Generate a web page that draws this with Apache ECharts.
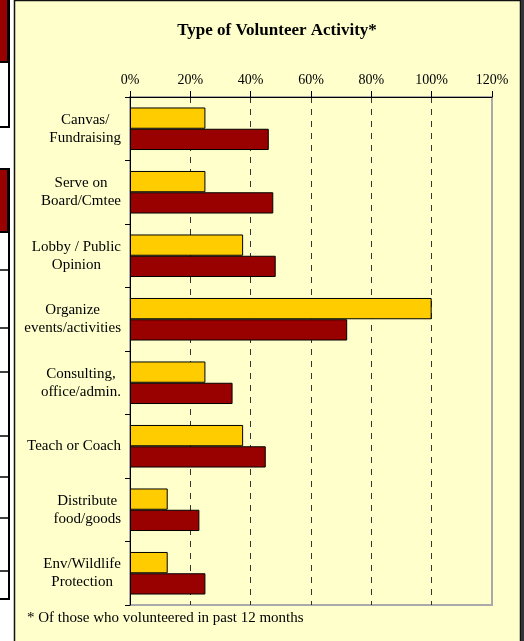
<!DOCTYPE html>
<html>
<head>
<meta charset="utf-8">
<style>
html,body{margin:0;padding:0;background:#ffffff;}
#chart{width:524px;height:641px;}
</style>
<script src="https://cdn.jsdelivr.net/npm/echarts@6/dist/echarts.min.js"></script>
</head>
<body>
<div id="chart"></div>
<script>
var categories = [
  "Canvas/\nFundraising",
  "Serve on\nBoard/Cmtee",
  "Lobby / Public\nOpinion",
  "Organize\nevents/activities",
  "Consulting,\noffice/admin.",
  "Teach or Coach",
  "Distribute\nfood/goods",
  "Env/Wildlife\nProtection"
];
var seriesYellow = [25, 25, 37.5, 100, 25, 37.5, 12.5, 12.5];
var seriesRed = [46, 47.5, 48.3, 72, 34, 45, 23, 25];
var axisMin = 0, axisMax = 120, axisStep = 20;
var titleText = "Type of Volunteer Activity*";
var footnoteText = "* Of those who volunteered in past 12 months";

var FONT = "'Liberation Serif', 'Times New Roman', serif";
var chart = echarts.init(document.getElementById('chart'), null, {renderer: 'canvas'});

var leftFragLines = [270, 328, 372, 436, 477, 518, 571];
var graphics = [
  // main panel
  {type: 'rect', z: -10, shape: {x: 14.5, y: 0.5, width: 506, height: 642}, style: {fill: '#FFFFCC', stroke: '#111', lineWidth: 1.5}},
  {type: 'rect', z: -10, shape: {x: 521, y: 0, width: 3, height: 641}, style: {fill: '#333'}},
  // left fragment boxes
  {type: 'rect', z: -10, shape: {x: -2, y: -2, width: 11, height: 129}, style: {fill: '#fff', stroke: '#000', lineWidth: 2}},
  {type: 'rect', z: -9, shape: {x: -2, y: -2, width: 10, height: 64}, style: {fill: '#990000', stroke: '#000', lineWidth: 2}},
  {type: 'rect', z: -10, shape: {x: -2, y: 169, width: 11, height: 430}, style: {fill: '#fff', stroke: '#000', lineWidth: 2}},
  {type: 'rect', z: -9, shape: {x: -2, y: 169, width: 10, height: 63}, style: {fill: '#990000', stroke: '#000', lineWidth: 2}},
  {type: 'text', left: 27, top: 611, style: {text: footnoteText, font: '15px ' + FONT, fill: '#000'}}
];
leftFragLines.forEach(function (y) {
  graphics.push({type: 'line', z: -9, shape: {x1: 0, y1: y, x2: 9, y2: y}, style: {stroke: '#000', lineWidth: 1.5}});
});

var option = {
  backgroundColor: '#ffffff',
  animation: false,
  title: {
    text: titleText,
    left: 272,
    top: 17,
    textAlign: 'center',
    textStyle: {fontFamily: FONT, fontWeight: 'bold', fontSize: 17, color: '#000'}
  },
  graphic: graphics,
  grid: {
    left: 130, top: 97, right: 32, bottom: 36,
    show: true, borderColor: '#aaa', borderWidth: 2, backgroundColor: 'transparent'
  },
  xAxis: {
    type: 'value',
    position: 'top',
    min: axisMin, max: axisMax, interval: axisStep,
    axisLine: {show: true, lineStyle: {color: '#000', width: 1}},
    axisTick: {show: true, length: 6, lineStyle: {color: '#000'}},
    axisLabel: {
      formatter: '{value}%', margin: 10,
      fontFamily: FONT, fontSize: 14, color: '#000'
    },
    splitLine: {show: true, showMinLine: false, showMaxLine: false, lineStyle: {color: '#333', type: [6, 6], width: 1}}
  },
  yAxis: {
    type: 'category',
    inverse: true,
    data: categories,
    axisLine: {show: true, lineStyle: {color: '#000', width: 1}},
    axisTick: {show: true, length: 5, lineStyle: {color: '#000'}},
    axisLabel: {
      margin: 9,
      align: 'right',
      fontFamily: FONT, fontSize: 15, color: '#000', lineHeight: 18,
      formatter: function (v) {
        return v.split('\n').map(function (s) { return '{c|' + s + '}'; }).join('\n');
      },
      rich: {c: {align: 'center', fontFamily: FONT, fontSize: 15, color: '#000', lineHeight: 18}}
    },
    splitLine: {show: false}
  },
  series: [
    {
      name: 'Yellow', type: 'bar', data: seriesYellow,
      barGap: '0%', barCategoryGap: '33%',
      itemStyle: {color: '#FFCC00', borderColor: '#000', borderWidth: 1}
    },
    {
      name: 'Red', type: 'bar', data: seriesRed,
      barGap: '0%', barCategoryGap: '33%',
      itemStyle: {color: '#990000', borderColor: '#000', borderWidth: 1}
    }
  ]
};
chart.setOption(option);
</script>
</body>
</html>
